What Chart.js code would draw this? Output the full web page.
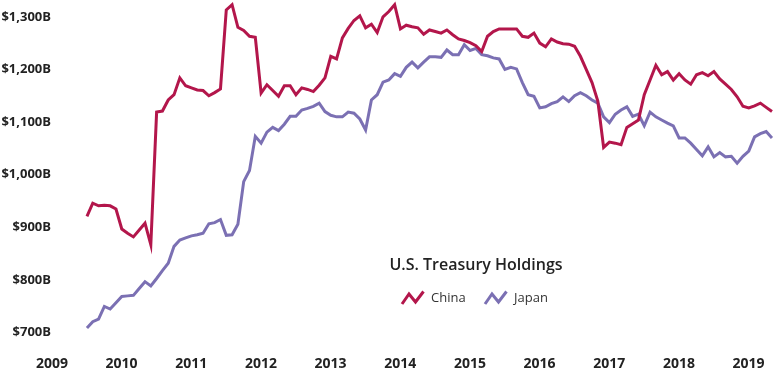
<!DOCTYPE html>
<html lang="en">
<head>
    <meta charset="UTF-8">
    <title>U.S. Treasury Holdings</title>
    <style>
        body {
            margin: 0;
            background-color: #ffffff;
            font-family: "Open Sans", Arial, sans-serif;
        }
        #wrap {
            position: relative;
            width: 775px;
            height: 376px;
        }
        .legend-title {
            position: absolute;
            left: 376px;
            top: 253px;
            width: 200px;
            text-align: center;
            font-size: 16px;
            font-weight: 600;
            line-height: 22px;
            color: #222;
            white-space: nowrap;
        }
        .legend-icon {
            position: absolute;
            top: 289px;
        }
        .legend-label {
            position: absolute;
            top: 287px;
            font-size: 13px;
            line-height: 20px;
            color: #333;
        }
    </style>
</head>
<body>
    <div id="wrap">
        <canvas id="holdingsChart" width="775" height="376"></canvas>

        <!-- legend drawn as html so it can sit inside the plot -->
        <div class="legend-title">U.S. Treasury Holdings</div>
        <svg class="legend-icon" style="left:400px" width="26" height="17">
            <polyline points="2,15 9,5 15.5,13 23.5,2.5" fill="none" stroke="#b3164b" stroke-width="3"/>
        </svg>
        <div class="legend-label" style="left:431px">China</div>
        <svg class="legend-icon" style="left:483px" width="26" height="17">
            <polyline points="2,15 9,5 15.5,13 23.5,2.5" fill="none" stroke="#7b70b3" stroke-width="3"/>
        </svg>
        <div class="legend-label" style="left:514px">Japan</div>
    </div>

    <script src="https://cdn.jsdelivr.net/npm/chart.js"></script>

    <script>
        // monthly holdings in billions of dollars, June 2009 to April 2019
        const startYear = 2009;
        const startMonth = 6;

        const chinaHoldings = [
            921, 946, 941, 942, 941, 935, 897,
            889, 882, 895, 908, 867, 1119, 1121, 1142, 1152, 1184, 1169, 1165,
            1161, 1160, 1150, 1156, 1163, 1313, 1323, 1280, 1274, 1263, 1261, 1155,
            1171, 1160, 1149, 1169, 1169, 1152, 1165, 1162, 1158, 1170, 1184, 1225,
            1220, 1260, 1278, 1293, 1302, 1279, 1286, 1270, 1300, 1310, 1323, 1277,
            1284, 1281, 1279, 1267, 1275, 1272, 1269, 1275, 1266, 1258, 1255, 1251,
            1245, 1234, 1263, 1272, 1277, 1277, 1277, 1277, 1263, 1261, 1269, 1250,
            1243, 1258, 1252, 1249, 1248, 1244, 1225, 1200, 1175, 1140, 1052, 1062,
            1060, 1057, 1090, 1097, 1104, 1152, 1180, 1208, 1190, 1196, 1180, 1192,
            1180, 1172, 1190, 1194, 1188, 1196, 1182, 1172, 1162, 1148, 1130, 1127,
            1131, 1136, 1128, 1120
        ];

        const japanHoldings = [
            709, 721, 726, 750, 745, 757, 769,
            770, 771, 784, 797, 789, 803, 818, 832, 864, 876, 880, 884,
            886, 889, 907, 909, 915, 885, 886, 906, 987, 1008, 1073, 1060,
            1081, 1090, 1084, 1096, 1111, 1111, 1123, 1126, 1130, 1136, 1120, 1113,
            1110, 1110, 1119, 1117, 1106, 1085, 1142, 1152, 1176, 1180, 1192, 1187,
            1204, 1214, 1203, 1214, 1224, 1224, 1223, 1237, 1228, 1228, 1247, 1236,
            1240, 1228, 1226, 1222, 1220, 1200, 1204, 1201, 1175, 1152, 1149, 1127,
            1129, 1135, 1139, 1148, 1139, 1150, 1156, 1150, 1142, 1136, 1110, 1099,
            1115, 1123, 1129, 1111, 1115, 1093, 1119, 1110, 1104, 1098, 1093, 1070,
            1070, 1060, 1048, 1036, 1053, 1034, 1042, 1034, 1035, 1022, 1035, 1045,
            1072, 1078, 1082, 1070
        ];

        const yearTicks = [2009, 2010, 2011, 2012, 2013, 2014, 2015, 2016, 2017, 2018, 2019];
        const valueTicks = [700, 800, 900, 1000, 1100, 1200, 1300];

        function toPoints(values) {
            return values.map((v, i) => ({
                x: startYear + (startMonth - 1 + i) / 12,
                y: v
            }));
        }

        function drawChart() {
            const ctx = document.getElementById('holdingsChart').getContext('2d');
            new Chart(ctx, {
                type: 'line',
                data: {
                    datasets: [{
                        label: 'China',
                        data: toPoints(chinaHoldings),
                        borderColor: '#b3164b',
                        borderWidth: 3,
                        pointRadius: 0,
                        tension: 0,
                        fill: false
                    }, {
                        label: 'Japan',
                        data: toPoints(japanHoldings),
                        borderColor: '#7b70b3',
                        borderWidth: 3,
                        pointRadius: 0,
                        tension: 0,
                        fill: false
                    }]
                },
                options: {
                    responsive: false,
                    animation: false,
                    devicePixelRatio: 1,
                    layout: {
                        padding: { left: 2, right: 1, top: 1, bottom: 3 }
                    },
                    plugins: {
                        legend: { display: false },
                        tooltip: { enabled: false }
                    },
                    scales: {
                        x: {
                            type: 'linear',
                            min: 2008.958,
                            max: 2019.279,
                            grid: { display: false, drawTicks: false },
                            border: { display: false },
                            afterBuildTicks: (scale) => {
                                scale.ticks = yearTicks.map(v => ({ value: v }));
                            },
                            afterFit: (scale) => {
                                // labels sit well inside, no overflow padding needed
                                scale.height = 35;
                                scale.paddingLeft = 0;
                                scale.paddingRight = 0;
                            },
                            ticks: {
                                padding: 18,
                                labelOffset: -6,
                                color: '#222',
                                font: { family: '"Open Sans", Arial, sans-serif', size: 14, weight: 'bold' },
                                callback: (v) => String(v)
                            }
                        },
                        y: {
                            min: 690,
                            max: 1330,
                            grid: { display: false, drawTicks: false },
                            border: { display: false },
                            afterFit: (scale) => {
                                scale.width = 53;
                                scale.paddingTop = 0;
                                scale.paddingBottom = 0;
                            },
                            afterBuildTicks: (scale) => {
                                scale.ticks = valueTicks.map(v => ({ value: v }));
                            },
                            ticks: {
                                padding: 4,
                                color: '#222',
                                font: { family: '"Open Sans", Arial, sans-serif', size: 13, weight: 'bold' },
                                callback: (v) => '$' + v.toLocaleString('en-US') + 'B'
                            }
                        }
                    }
                }
            });
        }

        if (document.fonts && document.fonts.load) {
            document.fonts.load('bold 13px "Open Sans"').then(drawChart, drawChart);
        } else {
            drawChart();
        }
    </script>
</body>
</html>
